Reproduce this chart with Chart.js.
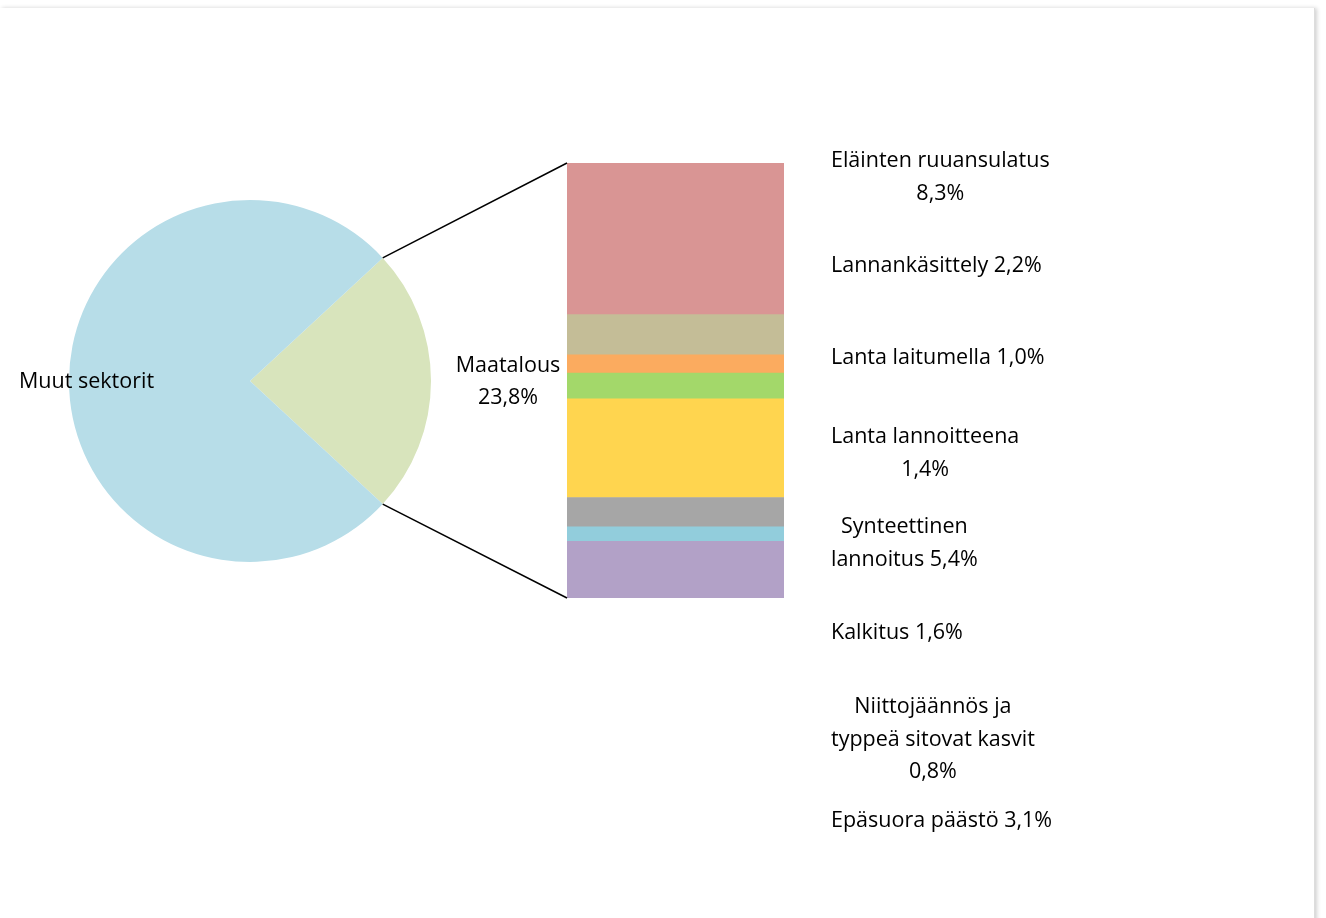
<!DOCTYPE html>
<html>
<head>
<meta charset="utf-8">
<script src="https://cdn.jsdelivr.net/npm/chart.js@4"></script>
<style>
  body { margin: 0; background: #fff; }
  #wrap { position: relative; width: 1326px; height: 918px; }
  #wrap canvas { position: absolute; left: 0; top: 0; }
  #frame { position: absolute; left: 0; top: 8px; width: 1314px; height: 930px;
           box-shadow: 2px 0 4px rgba(0,0,0,0.18); border-right: 1px solid #ddd; }
</style>
</head>
<body>
<div id="wrap">
  <div id="frame"></div>
  <canvas id="pie" width="1326" height="918"></canvas>
  <canvas id="bar" width="1326" height="918"></canvas>
</div>
<script>
// pie: rest vs agriculture
const pieLabels = ['Maatalous', 'Muut sektorit'];
const pieValues = [23.8, 76.2];
const pieColors = ['#d8e4bc', '#b7dde8'];

// agriculture breakdown, top to bottom in the bar
const partNames = ['Eläinten ruuansulatus', 'Lannankäsittely', 'Lanta laitumella', 'Lanta lannoitteena',
  'Synteettinen lannoitus', 'Kalkitus', 'Niittojäännös ja typpeä sitovat kasvit', 'Epäsuora päästö'];
const partValues = [8.3, 2.2, 1.0, 1.4, 5.4, 1.6, 0.8, 3.1];
const partColors = ['#d99594', '#c4bd97', '#fbab5f', '#a3d86a', '#ffd54f', '#a6a6a6', '#92cddc', '#b2a1c7'];

// label text as it is wrapped in the picture
const partLabelLines = [
  ['Eläinten ruuansulatus', '8,3%'],
  ['Lannankäsittely 2,2%'],
  ['Lanta laitumella 1,0%'],
  ['Lanta lannoitteena', '1,4%'],
  ['Synteettinen', 'lannoitus 5,4%'],
  ['Kalkitus 1,6%'],
  ['Niittojäännös ja', 'typpeä sitovat kasvit', '0,8%'],
  ['Epäsuora päästö 3,1%'],
];
const labelTops = [161, 266, 358, 437, 527, 633, 707, 821];

const FONT = '21.5px "Open Sans", "Liberation Sans", sans-serif';
Chart.defaults.font.family = '"Open Sans", "Liberation Sans", sans-serif';

const pieChart = new Chart(document.getElementById('pie'), {
  type: 'pie',
  data: { labels: pieLabels, datasets: [{ data: pieValues, backgroundColor: pieColors, borderWidth: 0 }] },
  options: {
    responsive: false, animation: false,
    rotation: 90 - 23.8 * 3.6 / 2,
    layout: { padding: { left: 69, top: 200, right: 895, bottom: 356 } },
    plugins: { legend: { display: false }, tooltip: { enabled: false } },
  },
  plugins: [{
    id: 'pieText',
    afterDraw(c) {
      const ctx = c.ctx;
      ctx.save();
      ctx.font = FONT; ctx.fillStyle = '#000'; ctx.textBaseline = 'middle';
      ctx.textAlign = 'left';
      ctx.fillText(pieLabels[1], 19, 382);
      ctx.textAlign = 'center';
      ctx.fillText(pieLabels[0], 508, 366);
      ctx.fillText(pieValues[0].toFixed(1).replace('.', ',') + '%', 508, 398);
      ctx.restore();
    }
  }]
});

const barChart = new Chart(document.getElementById('bar'), {
  type: 'bar',
  data: {
    labels: ['Maatalous'],
    datasets: partNames.map((n, i) => ({
      label: n, data: [partValues[i]], backgroundColor: partColors[i], borderWidth: 0,
      barPercentage: 1, categoryPercentage: 1,
    })).reverse(),
  },
  options: {
    responsive: false, animation: false,
    layout: { padding: { left: 567, top: 163, right: 542, bottom: 320 } },
    scales: {
      x: { stacked: true, display: false },
      y: { stacked: true, display: false, min: 0, max: partValues.reduce((a, b) => a + b, 0) },
    },
    plugins: { legend: { display: false }, tooltip: { enabled: false } },
  },
  plugins: [{
    id: 'connect',
    afterDraw(c) {
      const ctx = c.ctx;
      const arc = pieChart.getDatasetMeta(0).data[0];
      const x = c.scales.x, y = c.scales.y;
      const left = x.getPixelForValue(0) - (x.width) / 2;
      const right = left + x.width;
      const top = y.getPixelForValue(y.max), bottom = y.getPixelForValue(0);
      ctx.save();
      ctx.strokeStyle = '#000'; ctx.lineWidth = 1.5;
      ctx.beginPath();
      ctx.moveTo(arc.x + arc.outerRadius * Math.cos(arc.startAngle), arc.y + arc.outerRadius * Math.sin(arc.startAngle));
      ctx.lineTo(left, top);
      ctx.moveTo(arc.x + arc.outerRadius * Math.cos(arc.endAngle), arc.y + arc.outerRadius * Math.sin(arc.endAngle));
      ctx.lineTo(left, bottom);
      ctx.stroke();
      // labels column
      ctx.font = FONT; ctx.fillStyle = '#000'; ctx.textBaseline = 'middle'; ctx.textAlign = 'center';
      const x0 = right + 47;
      partLabelLines.forEach((lines, i) => {
        const w = Math.max(...lines.map(l => ctx.measureText(l).width));
        lines.forEach((l, j) => ctx.fillText(l, x0 + w / 2, labelTops[i] + j * 32.5));
      });
      ctx.restore();
    }
  }]
});
</script>
</body>
</html>
